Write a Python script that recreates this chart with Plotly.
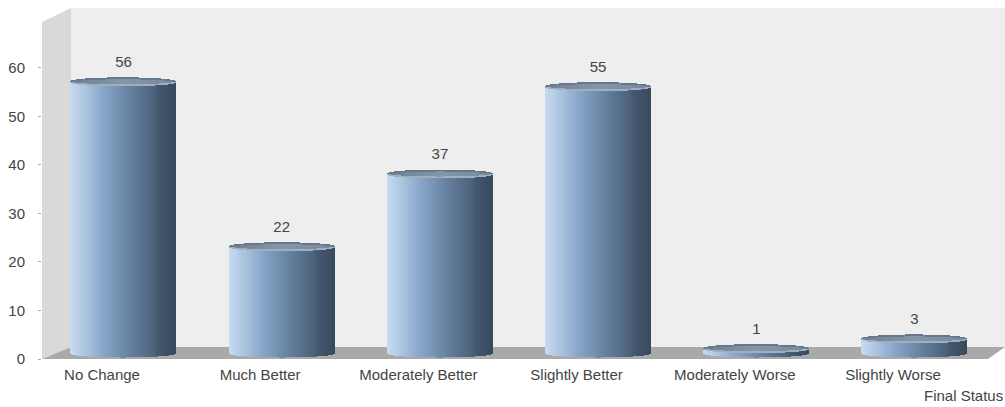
import numpy as np
import plotly.graph_objects as go

categories = ["No Change", "Much Better", "Moderately Better", "Slightly Better", "Moderately Worse", "Slightly Worse"]
values = [56, 22, 37, 55, 1, 3]
y_ticks = [0, 10, 20, 30, 40, 50, 60]
x_title = "Final Status"

# Pseudo-3D geometry, in axis units
Y_MAX = 74.0
X_MIN, X_MAX = -0.5152, 5.572
UNIT_Y = 359 / Y_MAX           # pixels per y unit
UNIT_X = 158.2                 # pixels per category
DEPTH_X = 29 / UNIT_X          # wall / floor skew
DEPTH_Y = 12 / UNIT_Y
BAR_LIFT = 5.5 / UNIT_Y        # cylinder base centre above the front edge
HALF_W = 52.5 / UNIT_X
ELLIPSE = 4.0 / UNIT_Y
SLICES = 105
LABEL_SHIFT = -0.136

TEXT = "#444444"
FONT = "Liberation Sans"
FONT_SIZE = 15


def ramp(stops, t):
    pos = [s[0] for s in stops]
    rgb = np.array([s[1] for s in stops], dtype=float)
    return "rgb({:.0f},{:.0f},{:.0f})".format(*[np.interp(t, pos, rgb[:, k]) for k in range(3)])


side_stops = [(0, (200, 220, 240)), (0.12, (176, 200, 226)), (0.32, (136, 166, 202)),
              (0.6, (98, 125, 155)), (0.82, (74, 96, 120)), (0.84, (68, 88, 110)), (1, (56, 74, 94))]
lid_stops = [(0, (112, 128, 148)), (0.5, (132, 150, 170)), (1, (120, 137, 155))]

t = (np.arange(SLICES) + 0.5) / SLICES
offset = (2 * t - 1) * HALF_W
arc = np.sqrt(1 - (2 * t - 1) ** 2)
slice_w = 2 * HALF_W / SLICES * 1.15
rim = 1.0 / UNIT_Y

fig = go.Figure()

# Cylinder sides and lids are built from thin bars, so each height comes from the value
for i, v in enumerate(values):
    x = i + offset
    fig.add_bar(x=x, y=np.full(SLICES, v), base=BAR_LIFT - ELLIPSE * arc, width=slice_w,
                marker=dict(color=[ramp(side_stops, s) for s in t], line_width=0),
                hoverinfo="skip", showlegend=False)
    fig.add_bar(x=x, y=2 * ELLIPSE * arc, base=v + BAR_LIFT - ELLIPSE * arc, width=slice_w,
                marker=dict(color=[ramp(lid_stops, s) for s in t], line_width=0),
                hoverinfo="skip", showlegend=False)
    # soft rim along the front of the lid, darker one along the back
    fig.add_bar(x=x, y=rim * arc, base=v + BAR_LIFT - ELLIPSE * arc, width=slice_w,
                marker=dict(color="rgb(160,175,191)", line_width=0),
                hoverinfo="skip", showlegend=False)
    fig.add_bar(x=x, y=rim * arc, base=v + BAR_LIFT + ELLIPSE * arc - rim * arc,
                width=slice_w, marker=dict(color="rgb(104,120,140)", line_width=0),
                hoverinfo="skip", showlegend=False)

# Value labels above each lid
fig.add_scatter(x=list(range(len(values))), y=[v + BAR_LIFT + 18.5 / UNIT_Y for v in values],
                mode="text", text=[str(v) for v in values], textposition="middle center",
                textfont=dict(family=FONT, size=FONT_SIZE, color=TEXT),
                hoverinfo="skip", showlegend=False)

x_left, x_right = X_MIN, X_MAX
x_back = X_MIN + DEPTH_X
y_front = 0
y_back = DEPTH_Y
y_top_front = (359 - 22) / UNIT_Y
y_top_back = (359 - 8) / UNIT_Y
x_floor_front = X_MAX - 17 / UNIT_X

shapes = [
    dict(type="rect", xref="x", yref="y", x0=x_back, x1=x_right, y0=y_back, y1=y_top_back,
         fillcolor="#eeeeee", line_width=0, layer="below"),
    dict(type="path", xref="x", yref="y",
         path=f"M{x_left},{y_front} L{x_back},{y_back} L{x_back},{y_top_back} L{x_left},{y_top_front} Z",
         fillcolor="#d9d9d9", line_width=0, layer="below"),
    dict(type="path", xref="x", yref="y",
         path=f"M{x_left},{y_front} L{x_back},{y_back} L{x_right},{y_back} L{x_floor_front},{y_front} Z",
         fillcolor="#a9a9a9", line_width=0, layer="below"),
]

fig.update_layout(
    width=1005, height=407, margin=dict(l=42, r=0, t=0, b=48),
    paper_bgcolor="white", plot_bgcolor="white",
    barmode="overlay", bargap=0, shapes=shapes,
    font=dict(family=FONT, size=FONT_SIZE, color=TEXT),
    xaxis=dict(range=[X_MIN, X_MAX], tickmode="array",
               tickvals=[i + LABEL_SHIFT for i in range(len(categories))], ticktext=categories,
               showgrid=False, zeroline=False, showline=False, ticks="", ticklen=0,
               tickangle=0, ticklabelstandoff=5,
               tickfont=dict(family=FONT, size=FONT_SIZE, color=TEXT)),
    yaxis=dict(range=[0, Y_MAX], tickmode="array", tickvals=y_ticks,
               showgrid=False, zeroline=False, showline=False,
               ticks="outside", ticklen=3, tickcolor="#aaaaaa", tickwidth=1,
               ticklabelstandoff=10,
               tickfont=dict(family=FONT, size=FONT_SIZE, color=TEXT)),
    annotations=[dict(text=x_title, xref="paper", yref="paper", x=1, y=-0.103,
                      xanchor="right", yanchor="middle", showarrow=False,
                      font=dict(family=FONT, size=FONT_SIZE, color=TEXT))],
)

fig.write_html("out.html", config=dict(displayModeBar=False))
